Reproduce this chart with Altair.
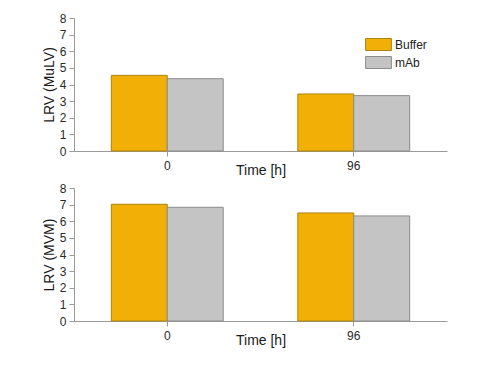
import altair as alt
import pandas as pd

times = ["0", "96"]
groups = ["Buffer", "mAb"]
mulv_buffer = [4.55, 3.43]
mulv_mab = [4.35, 3.33]
mvm_buffer = [7.02, 6.50]
mvm_mab = [6.84, 6.32]

fill_colors = ["#F2B007", "#C4C4C4"]
stroke_colors = ["#A98410", "#8C8C8C"]


def frame(buf, mab):
    rows = []
    for i, t in enumerate(times):
        rows.append({"time": t, "group": "Buffer", "value": buf[i]})
        rows.append({"time": t, "group": "mAb", "value": mab[i]})
    return pd.DataFrame(rows)


def panel(df, ytitle, show_legend):
    legend = None
    if show_legend:
        legend = alt.Legend(
            title=None,
            orient="none",
            legendX=298,
            legendY=20,
            padding=0,
            symbolType="M-2.15,-1H2.15V1H-2.15Z",
            symbolSize=144,
            symbolStrokeColor="#8C8C8C",
            symbolStrokeWidth=1,
            symbolOpacity=1,
            labelFontSize=12,
            labelOffset=10,
            labelColor="#222",
            rowPadding=1,
        )
    return (
        alt.Chart(df)
        .mark_bar(strokeWidth=1, opacity=1)
        .encode(
            x=alt.X(
                "time:N",
                sort=times,
                scale=alt.Scale(paddingInner=0.4, paddingOuter=0.2),
                axis=alt.Axis(
                    title="Time [h]",
                    labelAngle=0,
                    titleY=12,
                    titleBaseline="top",
                ),
            ),
            xOffset=alt.XOffset(
                "group:N", sort=groups, scale=alt.Scale(paddingInner=0, paddingOuter=0)
            ),
            y=alt.Y(
                "value:Q",
                scale=alt.Scale(domain=[0, 8], nice=False),
                axis=alt.Axis(title=ytitle, values=list(range(0, 9))),
            ),
            color=alt.Color(
                "group:N",
                sort=groups,
                scale=alt.Scale(domain=groups, range=fill_colors),
                legend=legend,
            ),
            stroke=alt.Stroke(
                "group:N",
                scale=alt.Scale(domain=groups, range=stroke_colors),
                legend=None,
            ),
        )
        .properties(width=373, height=133)
    )


top = panel(frame(mulv_buffer, mulv_mab), "LRV (MuLV)", True)
bottom = panel(frame(mvm_buffer, mvm_mab), "LRV (MVM)", False)

chart = (
    alt.vconcat(top, bottom, spacing=5)
    .properties(padding={"left": 34, "top": 4, "right": 5, "bottom": 5})
    .configure(font="Liberation Sans")
    .configure_view(stroke=None)
    .configure_axis(
        grid=False,
        domainColor="#9A9A9A",
        tickColor="#9A9A9A",
        tickSize=5,
        labelFontSize=12,
        labelColor="#2A2A2A",
        labelPadding=3,
        titleFontSize=14,
        titleFontWeight="normal",
        titleColor="#1A1A1A",
    )
    .configure_axisY(titlePadding=3)
    .configure_axisX(labelPadding=4)
)

chart.save("out.html", embed_options={"renderer": "svg", "actions": False})
